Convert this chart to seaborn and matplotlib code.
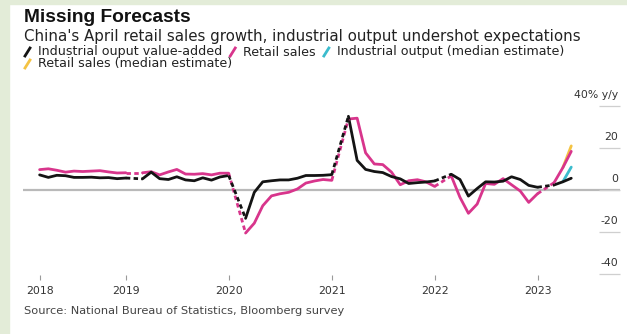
import numpy as np
import pandas as pd
import matplotlib
matplotlib.use("Agg")
import matplotlib.pyplot as plt
import matplotlib.transforms as mtransforms
from matplotlib.lines import Line2D
from matplotlib.patches import Rectangle
import seaborn as sns

# ---------------- data (y/y %, Jan-Feb combined reported as Feb) ----------------
years = [2018, 2019, 2020, 2021, 2022, 2023]
ip_2018 = [7.2, 6.0, 7.0, 6.8, 6.0, 6.0, 6.1, 5.8, 5.9, 5.4, 5.7]
ip_2019 = [5.3, 8.5, 5.4, 5.0, 6.3, 4.8, 4.4, 5.8, 4.7, 6.2, 6.9]
ip_2020 = [-13.5, -1.1, 3.9, 4.4, 4.8, 4.8, 5.6, 6.9, 6.9, 7.0, 7.3]
ip_2021 = [35.1, 14.1, 9.8, 8.8, 8.3, 6.4, 5.3, 3.1, 3.5, 3.8, 4.3]
ip_2022 = [7.5, 5.0, -2.9, 0.7, 3.9, 3.8, 4.2, 6.3, 5.0, 2.2, 1.3]
ip_2023 = [2.4, 3.9, 5.6]

rs_2018 = [9.7, 10.1, 9.4, 8.5, 9.0, 8.8, 9.0, 9.2, 8.6, 8.1, 8.2]
rs_2019 = [8.2, 8.7, 7.2, 8.6, 9.8, 7.6, 7.5, 7.8, 7.2, 8.0, 8.0]
rs_2020 = [-20.5, -15.8, -7.5, -2.8, -1.8, -1.1, 0.5, 3.3, 4.3, 5.0, 4.6]
rs_2021 = [33.8, 34.2, 17.7, 12.4, 12.1, 8.5, 2.5, 4.4, 4.9, 3.9, 1.7]
rs_2022 = [6.7, -3.5, -11.1, -6.7, 3.1, 2.7, 5.4, 2.5, -0.5, -5.9, -1.8]
rs_2023 = [3.5, 10.6, 18.4]

# April 2023 median estimates
ip_estimate = 10.9
rs_estimate = 21.0

y_ticks = [40, 20, 0, -20, -40]
y_tick_labels = ["40% y/y", "20", "0", "-20", "-40"]
x_tick_labels = ["2018", "2019", "2020", "2021", "2022", "2023"]

title = "Missing Forecasts"
subtitle = "China's April retail sales growth, industrial output undershot expectations"
legend_items = ["Industrial ouput value-added", "Retail sales",
                "Industrial output (median estimate)", "Retail sales (median estimate)"]
source = "Source: National Bureau of Statistics, Bloomberg survey"

C_IP = "#141414"
C_RS = "#d8358c"
C_IPE = "#3bbccd"
C_RSE = "#f4c343"

# ---------------- build tables ----------------
ip_by_year = [ip_2018, ip_2019, ip_2020, ip_2021, ip_2022, ip_2023]
rs_by_year = [rs_2018, rs_2019, rs_2020, rs_2021, rs_2022, rs_2023]
rows = []
for yr, ipv, rsv in zip(years, ip_by_year, rs_by_year):
    for i, (a, b) in enumerate(zip(ipv, rsv)):
        d = pd.Timestamp(year=yr, month=i + 2, day=1) + pd.offsets.MonthEnd(0)
        rows.append((d, "ip", a, yr))
        rows.append((d, "rs", b, yr))
df = pd.DataFrame(rows, columns=["date", "series", "value", "seg"])

# dashed connectors Dec -> Feb across the missing January
conn = []
for yr in years[1:]:
    for s in ["ip", "rs"]:
        prev = df[(df.series == s) & (df.seg == yr - 1)].iloc[-1]
        nxt = df[(df.series == s) & (df.seg == yr)].iloc[0]
        conn.append((prev.date, s, prev.value, yr))
        conn.append((nxt.date, s, nxt.value, yr))
dconn = pd.DataFrame(conn, columns=["date", "series", "value", "seg"])

# estimate segments: March 2023 actual -> April estimate
mar = pd.Timestamp("2023-03-31")
apr = pd.Timestamp("2023-04-30")
dest = pd.DataFrame({
    "date": [mar, apr, mar, apr],
    "series": ["ipe", "ipe", "rse", "rse"],
    "value": [ip_2023[1], ip_estimate, rs_2023[1], rs_estimate],
})

# ---------------- figure ----------------
W, H = 627, 334
fig = plt.figure(figsize=(W / 100, H / 100), dpi=100)
fig.patch.set_facecolor("white")
plt.rcParams["font.family"] = ["DejaVu Sans"]

# light green frame strips
fig.add_artist(Rectangle((0, 0), 9 / W, 1, transform=fig.transFigure, color="#e3ecd8", zorder=0))
fig.add_artist(Rectangle((0, 1 - 4 / H), 1, 4 / H, transform=fig.transFigure, color="#e3ecd8", zorder=0))

L, R, T, B = 23, 620, 95, 280
ax = fig.add_axes([L / W, 1 - B / H, (R - L) / W, (B - T) / H])
ax.set_facecolor("none")

ax.axhline(0, color="#b9b9b9", lw=1.6, zorder=1)

palette = {"ip": C_IP, "rs": C_RS, "ipe": C_IPE, "rse": C_RSE}
sns.lineplot(data=dest, x="date", y="value", hue="series", palette=palette,
             lw=2.0, legend=False, ax=ax, zorder=2)
sns.lineplot(data=df, x="date", y="value", hue="series", units="seg", estimator=None,
             palette=palette, hue_order=["rs", "ip"], lw=2.0, legend=False, ax=ax, zorder=3)
n_before = len(ax.get_lines())
sns.lineplot(data=dconn, x="date", y="value", hue="series", units="seg", estimator=None,
             palette=palette, hue_order=["rs", "ip"], lw=2.0, legend=False, ax=ax,
             dashes=False, zorder=3)
for ln in ax.get_lines()[n_before:]:
    ln.set_linestyle((0, (1.6, 1.2)))
for ln in ax.get_lines():
    ln.set_solid_capstyle("round")

ax.set_xlim(pd.Timestamp("2017-12-31"), pd.Timestamp("2023-10-20"))
ax.set_ylim((190 - B) / 2.1, (190 - T) / 2.1)

xt = [pd.Timestamp("2018-02-28")] + [pd.Timestamp(f"{y}-01-01") for y in years[1:]]
ax.set_xticks(xt)
ax.set_xticklabels(x_tick_labels)
ax.tick_params(axis="x", direction="in", length=3.5, width=0.8, color="#9a9a9a",
               labelsize=7.8, labelcolor="#333333", pad=4)

ax.yaxis.tick_right()
ax.set_yticks(y_ticks)
ax.tick_params(axis="y", direction="in", length=15, width=0.9, color="#cfcfcf",
               labelright=False, labelleft=False)
blend = mtransforms.blended_transform_factory(ax.transAxes, ax.transData)
off = mtransforms.ScaledTranslation(0, 6 / 100, fig.dpi_scale_trans)
for v, lab in zip(y_ticks, y_tick_labels):
    ax.text((618 - L) / (R - L), v, lab, transform=blend + off, ha="right", va="bottom",
            fontsize=7.8, color="#333333")

for s in ax.spines.values():
    s.set_visible(False)
ax.set_xlabel("")
ax.set_ylabel("")
ax.grid(False)

# ---------------- texts ----------------
def px(x, y):
    return x / W, 1 - y / H

fig.text(*px(24, 18), title, fontsize=13.8, fontweight="bold", va="center", ha="left",
         color="#111111", family=["Liberation Sans", "DejaVu Sans"])
fig.text(*px(24, 37), subtitle, fontsize=10.8, va="center", ha="left", color="#222222")

leg_font = 9.1
def legend_entry(x, y, color, text):
    x0, y0 = px(x, y + 4)
    x1, y1 = px(x + 5, y - 4)
    fig.add_artist(Line2D([x0, x1], [y0, y1], color=color, lw=2.0, transform=fig.transFigure))
    return fig.text(*px(x + 13, y), text, fontsize=leg_font, va="center", ha="left", color="#222222")

renderer = fig.canvas.get_renderer()
x = 25
cols = [C_IP, C_RS, C_IPE]
for c, t in zip(cols, legend_items[:3]):
    tt = legend_entry(x, 52, c, t)
    bb = tt.get_window_extent(renderer)
    x = bb.x1 + 8
legend_entry(25, 64, C_RSE, legend_items[3])

fig.text(*px(24, 311), source, fontsize=8.2, va="center", ha="left", color="#444444")

fig.savefig("out.png", dpi=100, facecolor="white")
